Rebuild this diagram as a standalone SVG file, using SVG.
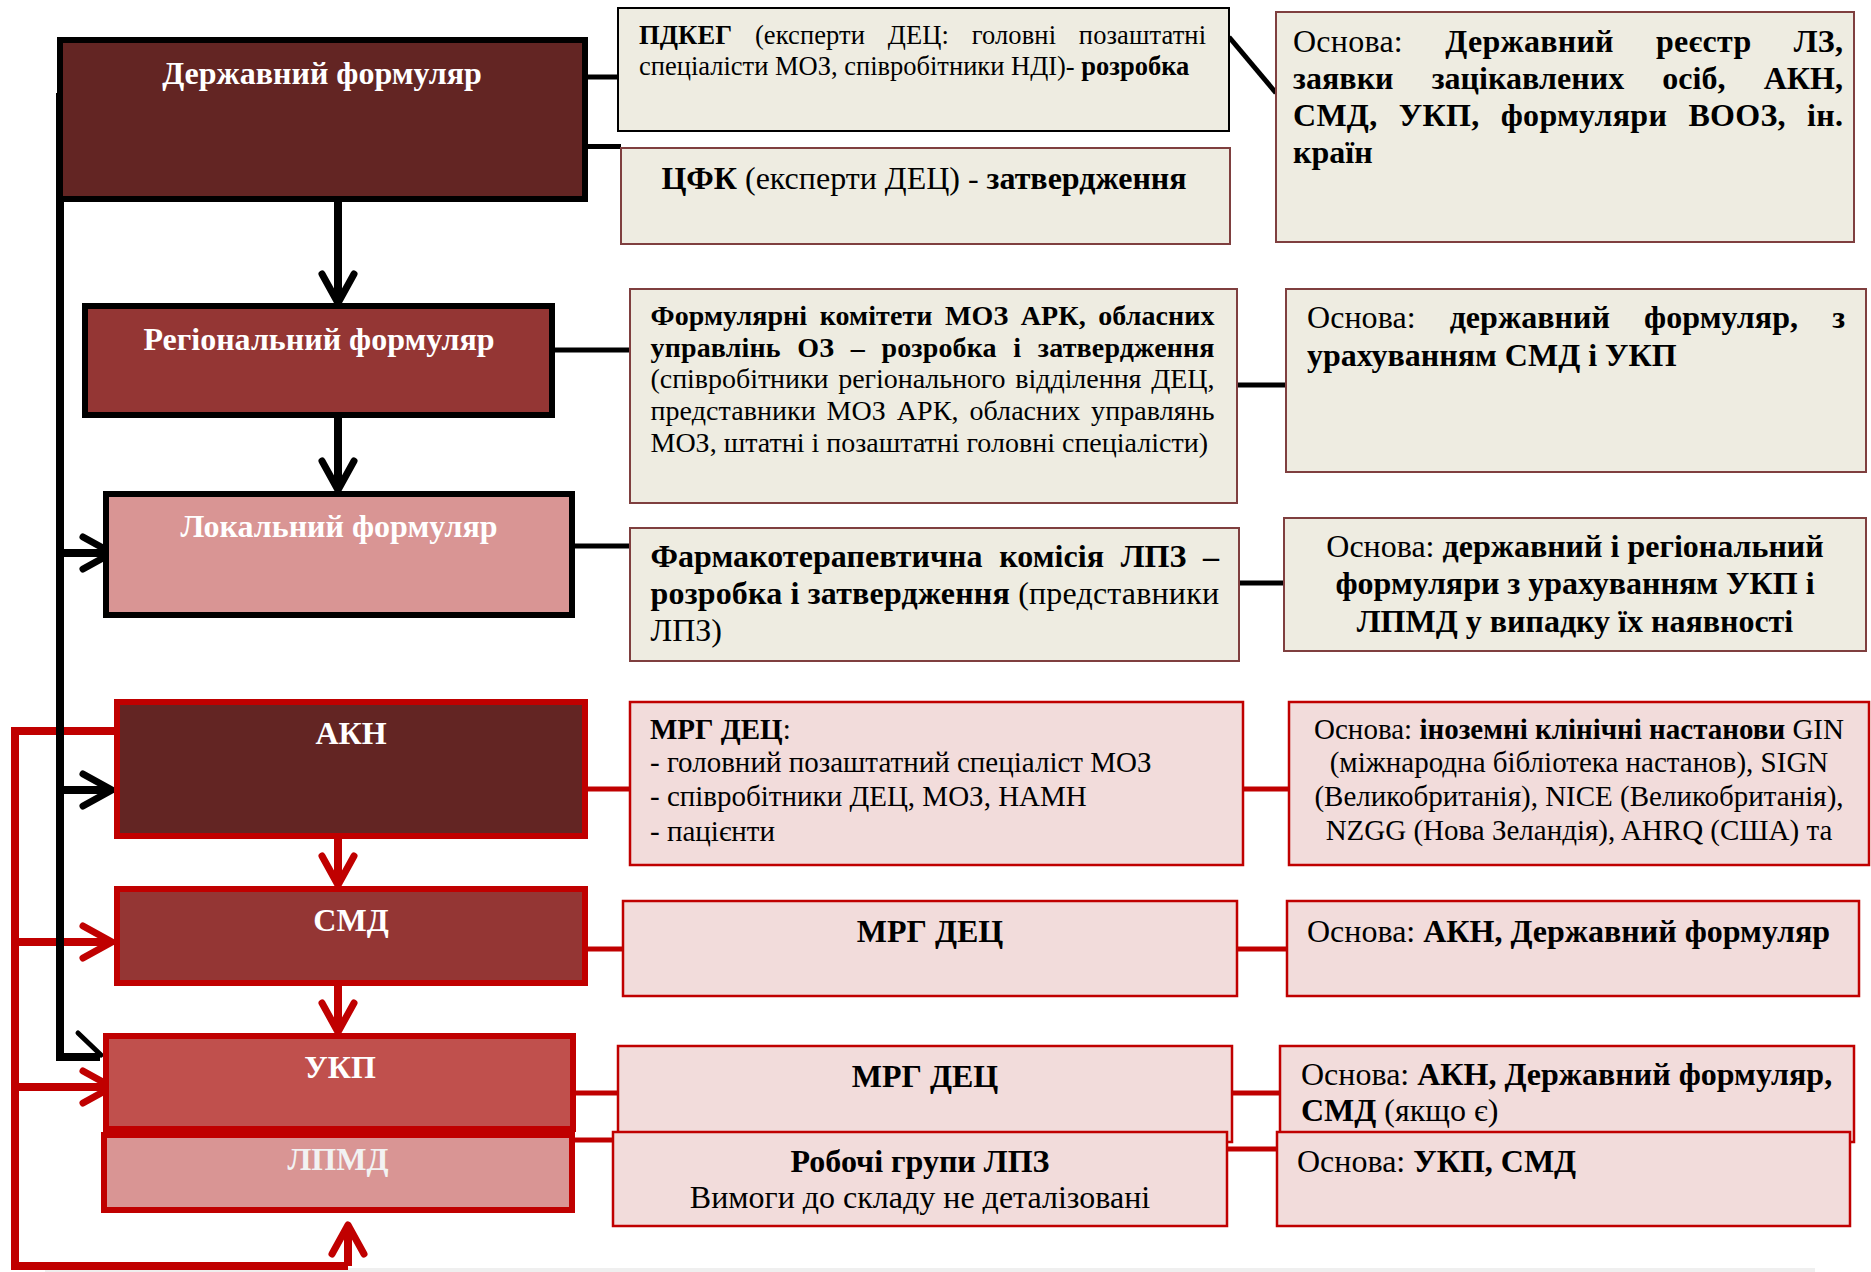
<svg xmlns="http://www.w3.org/2000/svg" width="1871" height="1272" viewBox="0 0 1871 1272">
<defs>
<style>
text{font-family:"Liberation Serif","Times New Roman",serif;fill:#000}
.t{font-size:32px;font-weight:bold;fill:#FFFFFF;text-anchor:middle}
.b{font-weight:bold}
.s32{font-size:32px}
.s29{font-size:29px}
.s28{font-size:28px}
.mid{text-anchor:middle}
.nb{stroke:#000;stroke-width:6}
.nr{stroke:#C00000;stroke-width:6}
.bx{fill:#EEECE1;stroke:#7F3F3F;stroke-width:2}
.px{fill:#F2DCDB;stroke:#C00000;stroke-width:2.5}
.cb{stroke:#000;stroke-width:5;fill:none}
.cr{stroke:#C00000;stroke-width:5;fill:none}
.tb{stroke:#000;stroke-width:8;fill:none}
.tr{stroke:#C00000;stroke-width:8;fill:none}
.ab{stroke:#000;stroke-width:8;fill:none;marker-end:url(#ahb)}
.ar{stroke:#C00000;stroke-width:8;fill:none;marker-end:url(#ahr)}
</style>
<marker id="ahb" markerUnits="userSpaceOnUse" viewBox="-40 -24 48 48" markerWidth="48" markerHeight="48" refX="-4" refY="0" orient="auto" overflow="visible">
<path d="M-29,-16 L0,0 L-29,16" fill="none" stroke="#000" stroke-width="7" stroke-linecap="round" stroke-linejoin="round"/>
</marker>
<marker id="ahr" markerUnits="userSpaceOnUse" viewBox="-40 -24 48 48" markerWidth="48" markerHeight="48" refX="-4" refY="0" orient="auto" overflow="visible">
<path d="M-29,-16 L0,0 L-29,16" fill="none" stroke="#C00000" stroke-width="7" stroke-linecap="round" stroke-linejoin="round"/>
</marker>
</defs>

<rect x="45" y="1268" width="1770" height="4" fill="#EFEFEF"/>

<g id="connectors">
<line class="cb" x1="585" y1="77" x2="618" y2="77"/>
<line class="cb" x1="585" y1="146.5" x2="621" y2="146.5"/>
<line class="cb" x1="1229" y1="37" x2="1276" y2="93"/>
<line class="cb" x1="552" y1="350" x2="630" y2="350"/>
<line class="cb" x1="1237" y1="385" x2="1286" y2="385"/>
<line class="cb" x1="572" y1="546" x2="630" y2="546"/>
<line class="cb" x1="1239" y1="583" x2="1284" y2="583"/>
<line class="cr" x1="585" y1="789" x2="630" y2="789"/>
<line class="cr" x1="1243" y1="789" x2="1289" y2="789"/>
<line class="cr" x1="585" y1="949" x2="623" y2="949"/>
<line class="cr" x1="1237" y1="949" x2="1287" y2="949"/>
<line class="cr" x1="573" y1="1093" x2="618" y2="1093"/>
<line class="cr" x1="1232" y1="1093" x2="1280" y2="1093"/>
<line class="cr" x1="572" y1="1140" x2="613" y2="1140"/>
<line class="cr" x1="1227" y1="1149" x2="1277" y2="1149"/>
<path class="ab" d="M338,202 V299"/>
<path class="ab" d="M338,418 V486"/>
<path class="tr" d="M117,731 H15 V1266 H348"/>
<path class="ar" d="M348,1266 V1229"/>
<path class="ar" d="M15,942 H108"/>
<path class="ar" d="M15,1087 H108"/>
<path class="ar" d="M338,839 V881"/>
<path class="ar" d="M338,986 V1028"/>
<path class="tb" d="M60,93 V1057 H100"/>
<path class="cb" d="M78,1033 L101,1055" stroke-width="7" stroke-linecap="round"/>
<path class="ab" d="M60,553 H108"/>
<path class="ab" d="M60,790 H108"/>
</g>

<g id="derzhavnyi">
<rect class="nb" x="60" y="40" width="525" height="159" fill="#632523"/>
<text class="t" x="322" y="84">Державний формуляр</text>
</g>
<g id="pdkeg">
<rect class="bx" x="618" y="8" width="611" height="123" style="stroke:#000"/>
<text x="639" y="44" font-size="26.5" word-spacing="16" textLength="567" lengthAdjust="spacing"><tspan class="b">ПДКЕГ</tspan> (експерти ДЕЦ: головні позаштатні</text>
<text x="639" y="75" font-size="26.5">спеціалісти МОЗ, співробітники НДІ)- <tspan class="b">розробка</tspan></text>
</g>
<g id="cfk">
<rect class="bx" x="621" y="148" width="609" height="96"/>
<text class="s32 mid" x="924" y="189"><tspan class="b">ЦФК</tspan> (експерти ДЕЦ) - <tspan class="b">затвердження</tspan></text>
</g>
<g id="osnova1">
<rect class="bx" x="1276" y="12" width="578" height="230"/>
<text class="s32" x="1293" y="52" word-spacing="34" textLength="550" lengthAdjust="spacing">Основа: <tspan class="b">Державний реєстр ЛЗ,</tspan></text>
<text class="s32 b" x="1293" y="89" word-spacing="30" textLength="550" lengthAdjust="spacing">заявки зацікавлених осіб, АКН,</text>
<text class="s32 b" x="1293" y="126" word-spacing="13" textLength="550" lengthAdjust="spacing">СМД, УКП, формуляри ВООЗ, ін.</text>
<text class="s32 b" x="1293" y="163">країн</text>
</g>

<g id="regionalnyi">
<rect class="nb" x="85" y="306" width="467" height="109" fill="#943634"/>
<text class="t" x="319" y="350">Регіональний формуляр</text>
</g>
<g id="formkomitety">
<rect class="bx" x="630" y="289" width="607" height="214"/>
<text class="s28 b" x="650.5" y="325" word-spacing="5.5" textLength="564" lengthAdjust="spacing">Формулярні комітети МОЗ АРК, обласних</text>
<text class="s28 b" x="650.5" y="357" word-spacing="9.4" textLength="564" lengthAdjust="spacing">управлінь ОЗ – розробка і затвердження</text>
<text class="s28" x="650.5" y="388" word-spacing="2.8" textLength="564" lengthAdjust="spacing">(співробітники регіонального відділення ДЕЦ,</text>
<text class="s28" x="650.5" y="420" word-spacing="3.8" textLength="564" lengthAdjust="spacing">представники МОЗ АРК, обласних управлянь</text>
<text class="s28" x="650.5" y="452">МОЗ, штатні і позаштатні головні спеціалісти)</text>
</g>
<g id="osnova2">
<rect class="bx" x="1286" y="289" width="580" height="183"/>
<text class="s32" x="1307" y="328" word-spacing="26" textLength="538" lengthAdjust="spacing">Основа: <tspan class="b">державний формуляр, з</tspan></text>
<text class="s32 b" x="1307" y="366">урахуванням СМД і УКП</text>
</g>

<g id="lokalnyi">
<rect class="nb" x="106" y="494" width="466" height="121" fill="#D99594"/>
<text class="t" x="339" y="537">Локальний формуляр</text>
</g>
<g id="farmkomisiia">
<rect class="bx" x="630" y="528" width="609" height="133"/>
<text class="s32 b" x="650.5" y="567" word-spacing="8.5" textLength="568.5" lengthAdjust="spacing">Фармакотерапевтична комісія ЛПЗ –</text>
<text class="s32" x="650.5" y="604" textLength="568.5" lengthAdjust="spacing"><tspan class="b">розробка і затвердження</tspan> (представники</text>
<text class="s32" x="650.5" y="641">ЛПЗ)</text>
</g>
<g id="osnova3">
<rect class="bx" x="1284" y="518" width="582" height="133"/>
<text class="s32 mid" x="1575" y="557">Основа: <tspan class="b">державний і регіональний</tspan></text>
<text class="s32 mid b" x="1575" y="594">формуляри з урахуванням УКП і</text>
<text class="s32 mid b" x="1575" y="632">ЛПМД у випадку їх наявності</text>
</g>

<g id="akn">
<rect class="nr" x="117" y="702" width="468" height="134" fill="#632523"/>
<text class="t" x="351" y="744">АКН</text>
</g>
<g id="mrg1">
<rect class="px" x="630" y="702" width="613" height="163"/>
<text class="s29" x="650" y="739"><tspan class="b">МРГ ДЕЦ</tspan>:</text>
<text class="s29" x="650" y="772">- головний позаштатний спеціаліст МОЗ</text>
<text class="s29" x="650" y="806">- співробітники ДЕЦ, МОЗ, НАМН</text>
<text class="s29" x="650" y="841">- пацієнти</text>
</g>
<g id="osnova4">
<rect class="px" x="1289" y="702" width="580" height="163"/>
<text class="s29 mid" x="1579" y="739">Основа: <tspan class="b">іноземні клінічні настанови</tspan> GIN</text>
<text class="s29 mid" x="1579" y="772">(міжнародна бібліотека настанов), SIGN</text>
<text class="s29 mid" x="1579" y="806">(Великобританія), NICE (Великобританія),</text>
<text class="s29 mid" x="1579" y="840">NZGG (Нова Зеландія), AHRQ (США) та</text>
</g>

<g id="smd">
<rect class="nr" x="117" y="889" width="468" height="94" fill="#943634"/>
<text class="t" x="351" y="931">СМД</text>
</g>
<g id="mrg2">
<rect class="px" x="623" y="901" width="614" height="95"/>
<text class="s32 mid b" x="930" y="942">МРГ ДЕЦ</text>
</g>
<g id="osnova5">
<rect class="px" x="1287" y="901" width="572" height="95"/>
<text class="s32" x="1307" y="942">Основа: <tspan class="b">АКН, Державний формуляр</tspan></text>
</g>

<g id="ukp">
<rect class="nr" x="106" y="1036" width="467" height="93" fill="#C0504D"/>
<text class="t" x="340" y="1078">УКП</text>
</g>
<g id="mrg3">
<rect class="px" x="618" y="1046" width="614" height="96"/>
<text class="s32 mid b" x="925" y="1087">МРГ ДЕЦ</text>
</g>
<g id="osnova6">
<rect class="px" x="1280" y="1046" width="574" height="96"/>
<text class="s32" x="1301" y="1085">Основа: <tspan class="b">АКН, Державний формуляр,</tspan></text>
<text class="s32" x="1301" y="1121"><tspan class="b">СМД</tspan> (якщо є)</text>
</g>

<g id="lpmd">
<rect class="nr" x="104" y="1135" width="468" height="75" fill="#D99594"/>
<text class="t" x="338" y="1170" style="fill:#F2F2F2">ЛПМД</text>
</g>
<g id="robochi">
<rect class="px" x="613" y="1132" width="614" height="94"/>
<text class="s32 mid b" x="920" y="1172">Робочі групи ЛПЗ</text>
<text class="s32 mid" x="920" y="1208">Вимоги до складу не деталізовані</text>
</g>
<g id="osnova7">
<rect class="px" x="1277" y="1132" width="573" height="94"/>
<text class="s32" x="1297" y="1172">Основа: <tspan class="b">УКП, СМД</tspan></text>
</g>
</svg>
